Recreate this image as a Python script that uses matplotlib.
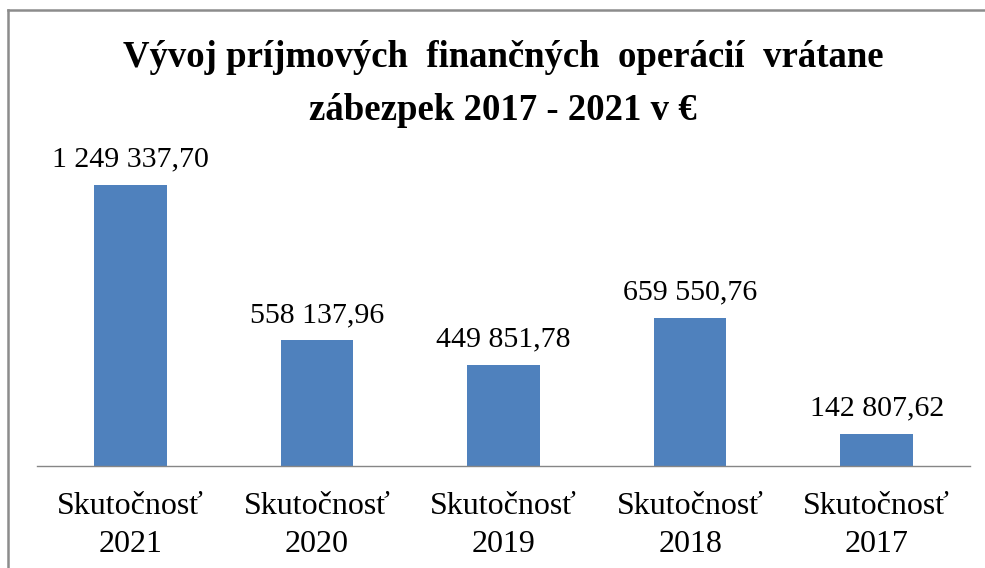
import numpy as np
import matplotlib.pyplot as plt
from matplotlib.lines import Line2D

categories = ['Skutočnosť\n2021', 'Skutočnosť\n2020', 'Skutočnosť\n2019',
              'Skutočnosť\n2018', 'Skutočnosť\n2017']
values = [1249337.70, 558137.96, 449851.78, 659550.76, 142807.62]
value_labels = ['1 249 337,70', '558 137,96', '449 851,78', '659 550,76', '142 807,62']
title = 'Vývoj príjmových  finančných  operácií  vrátane\nzábezpek 2017 - 2021 v €'

plt.rcParams['font.family'] = ['Liberation Serif', 'DejaVu Serif']

W, H = 985, 568
fig = plt.figure(figsize=(W / 100, H / 100), dpi=100)

# plot area in pixel terms
left, right, bottom, top = 37, 970, 466, 150
ax = fig.add_axes([left / W, (H - bottom) / H, (right - left) / W, (bottom - top) / H])

x = np.arange(len(values))
ax.bar(x, values, width=0.39, color='#4F81BD')
ax.set_xlim(-0.5, len(values) - 0.5)
ax.set_ylim(0, 1404000)

for xi, v, lab in zip(x, values, value_labels):
    ax.annotate(lab, (xi, v), xytext=(0, 9), textcoords='offset points',
                ha='center', va='bottom', fontsize=21.5)

ax.set_xticks(x)
ax.set_xticklabels(categories, fontsize=23, linespacing=1.37)
ax.tick_params(axis='x', length=0, pad=19)
ax.set_yticks([])
for s in ['top', 'right', 'left']:
    ax.spines[s].set_visible(False)
ax.spines['bottom'].set_color('#868686')
ax.spines['bottom'].set_linewidth(1)

fig.text(503 / W, 1 - 40 / H, title, ha='center', va='top', fontsize=26.5,
         fontweight='bold', linespacing=1.67)

# chart frame (only top and left edges visible in the crop)
fig.add_artist(Line2D([8 / W, 8 / W], [0, 1 - 10 / H], color='#8c8c8c', lw=1.8,
                      transform=fig.transFigure))
fig.add_artist(Line2D([8 / W, 1], [1 - 10 / H, 1 - 10 / H], color='#8c8c8c', lw=1.8,
                      transform=fig.transFigure))

fig.savefig('out.png', dpi=100)
